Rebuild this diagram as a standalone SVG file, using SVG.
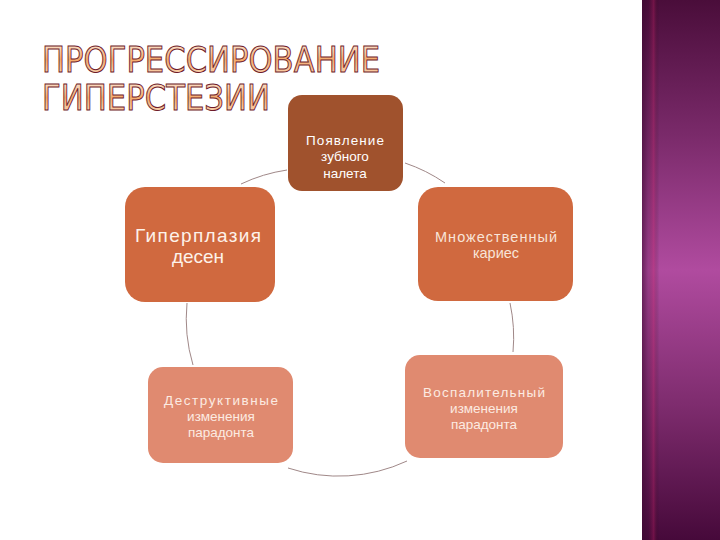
<svg xmlns="http://www.w3.org/2000/svg" width="720" height="540" viewBox="0 0 720 540">
  <defs>
    <linearGradient id="band" x1="0" y1="0" x2="0" y2="1">
      <stop offset="0" stop-color="#4a0d3a"/>
      <stop offset="0.25" stop-color="#7a2a6a"/>
      <stop offset="0.5" stop-color="#b04b9f"/>
      <stop offset="0.75" stop-color="#7e2c6e"/>
      <stop offset="1" stop-color="#46093a"/>
    </linearGradient>
    <linearGradient id="bandEdge" x1="0" y1="0" x2="1" y2="0">
      <stop offset="0" stop-color="#3a0830" stop-opacity="0.6"/>
      <stop offset="0.08" stop-color="#3a0830" stop-opacity="0.2"/>
      <stop offset="0.15" stop-color="#c02060" stop-opacity="0.35"/>
      <stop offset="0.22" stop-color="#000000" stop-opacity="0"/>
      <stop offset="1" stop-color="#000000" stop-opacity="0"/>
    </linearGradient>
    <linearGradient id="titleFill" x1="0" y1="0" x2="0" y2="1">
      <stop offset="0" stop-color="#fff6ee"/>
      <stop offset="0.5" stop-color="#f4aa6c"/>
      <stop offset="1" stop-color="#fbe0c8"/>
    </linearGradient>
  </defs>
  <style>
    .title { font-family: "DejaVu Sans", "Liberation Sans", sans-serif; font-size: 36px; fill: url(#titleFill); stroke: #6e1a2a; stroke-width: 1; }
    .lbl { font-family: "Liberation Sans", "DejaVu Sans", sans-serif; text-anchor: middle; }
    .conn { fill: none; stroke: #a08888; stroke-width: 1; }
  </style>
  <rect x="0" y="0" width="720" height="540" fill="#ffffff"/>
  <g id="band-decor">
    <rect x="642" y="0" width="78" height="540" fill="url(#band)"/>
    <rect x="642" y="0" width="78" height="540" fill="url(#bandEdge)"/>
  </g>
  <g id="title">
    <text class="title" x="42" y="72" textLength="338" lengthAdjust="spacingAndGlyphs">ПРОГРЕССИРОВАНИЕ</text>
    <text class="title" x="42" y="110" textLength="228" lengthAdjust="spacingAndGlyphs">ГИПЕРСТЕЗИИ</text>
  </g>
  <g id="connectors">
    <path class="conn" d="M405,163 A162,162 0 0 1 445,183"/>
    <path class="conn" d="M510,303 A162,162 0 0 1 513,352"/>
    <path class="conn" d="M407,461 A162,162 0 0 1 288,468"/>
    <path class="conn" d="M193,365 A162,162 0 0 1 187,303"/>
    <path class="conn" d="M241,184 A162,162 0 0 1 287,170"/>
  </g>
  <g id="node-top">
    <rect x="288" y="95" width="115" height="96" rx="14" fill="#a0522d"/>
    <text class="lbl" font-size="13.5" fill="#ffffff"><tspan x="345" y="145" textLength="78">Появление</tspan><tspan x="345" y="161">зубного</tspan><tspan x="345" y="178">налета</tspan></text>
  </g>
  <g id="node-left">
    <rect x="125" y="187" width="150" height="115" rx="20" fill="#d0693f"/>
    <text class="lbl" font-size="19" fill="#fdf2ea"><tspan x="198" y="242" textLength="126">Гиперплазия</tspan><tspan x="198" y="263">десен</tspan></text>
  </g>
  <g id="node-right">
    <rect x="418" y="187" width="155" height="114" rx="20" fill="#d0693f"/>
    <text class="lbl" font-size="14.5" fill="#f8e4d8"><tspan x="496" y="242" textLength="122">Множественный</tspan><tspan x="496" y="258">кариес</tspan></text>
  </g>
  <g id="node-bottom-left">
    <rect x="148" y="367" width="145" height="96" rx="15" fill="#e08a70"/>
    <text class="lbl" font-size="13.5" fill="#fcebe2"><tspan x="221" y="405" textLength="114">Деструктивные</tspan><tspan x="221" y="421">изменения</tspan><tspan x="221" y="437">парадонта</tspan></text>
  </g>
  <g id="node-bottom-right">
    <rect x="405" y="355" width="158" height="103" rx="15" fill="#e08a70"/>
    <text class="lbl" font-size="13.5" fill="#fcebe2"><tspan x="484" y="397" textLength="122">Воспалительный</tspan><tspan x="484" y="413">изменения</tspan><tspan x="484" y="429">парадонта</tspan></text>
  </g>
</svg>
